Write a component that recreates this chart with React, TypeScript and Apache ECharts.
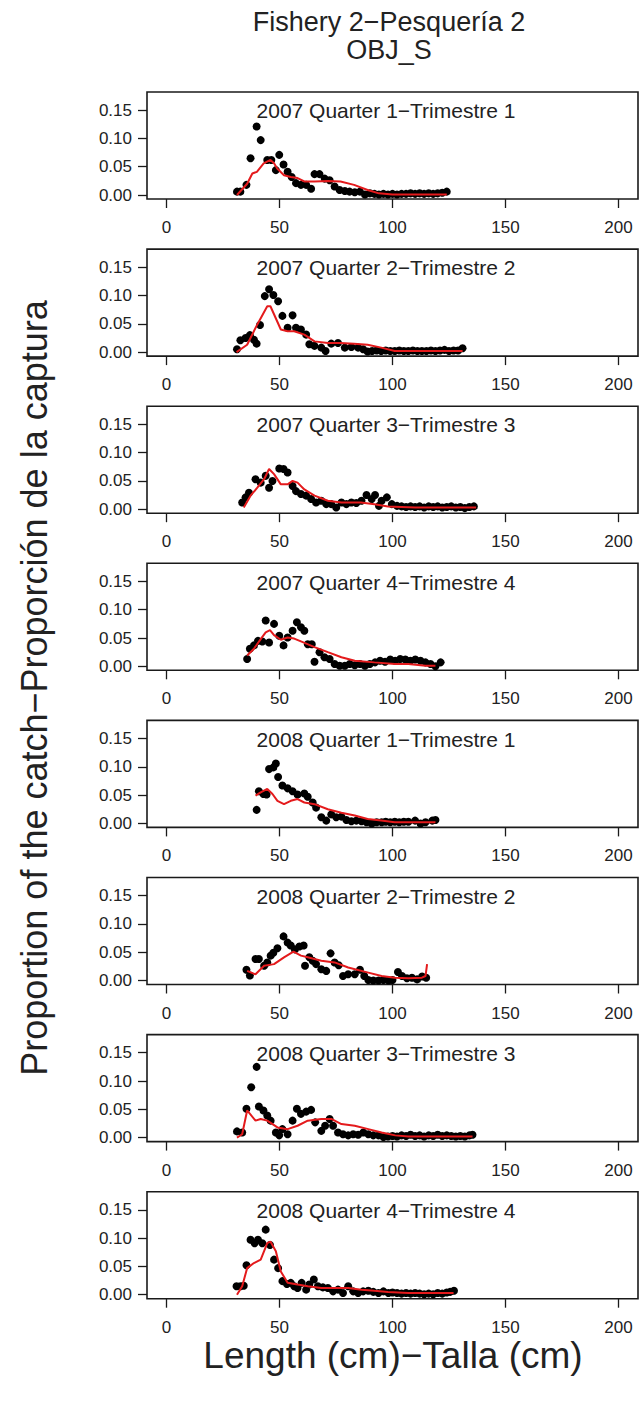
import React, { useEffect, useRef } from "react";
import * as echarts from "echarts";

// ---------- data ----------
const panelTitles = [
  "2007 Quarter 1\u2212Trimestre 1",
  "2007 Quarter 2\u2212Trimestre 2",
  "2007 Quarter 3\u2212Trimestre 3",
  "2007 Quarter 4\u2212Trimestre 4",
  "2008 Quarter 1\u2212Trimestre 1",
  "2008 Quarter 2\u2212Trimestre 2",
  "2008 Quarter 3\u2212Trimestre 3",
  "2008 Quarter 4\u2212Trimestre 4",
];
const xTicks = [0, 50, 100, 150, 200];
const yTicks = [0, 0.05, 0.1, 0.15];

const obs2007q1 = [[31.2,0.006],[32.7,0.006],[35.4,0.018],[37.2,0.065],[39.9,0.121],[41.7,0.097],[44.6,0.062],[46.4,0.062],[48.4,0.044],[49.9,0.071],[51.8,0.054],[53.6,0.041],[55.4,0.032],[57.3,0.021],[59.5,0.018],[61.8,0.018],[64,0.011],[65.5,0.037],[67.7,0.037],[70,0.029],[72.2,0.026],[74.4,0.015],[76.6,0.009],[78.9,0.007],[81,0.006],[83.3,0.005],[85.6,0.006],[87.8,0.001],[90,0.003],[92,0.002],[94,0.001],[96,0.002],[98,0.001],[100,0.002],[102,0.001],[104,0.002],[106,0.002],[108,0.003],[110,0.002],[112,0.003],[114,0.002],[116,0.003],[118,0.002],[120,0.003],[122,0.004],[124,0.006]];
const pred2007q1 = [[31.2,0],[35.7,0.02],[38,0.038],[40,0.041],[43,0.056],[46,0.062],[47.6,0.056],[49,0.047],[52,0.035],[55,0.032],[58,0.03],[61,0.024],[65.5,0.024],[71.4,0.025],[77,0.024],[83,0.018],[89,0.009],[94,0.003],[100,0.001],[110,0.001],[124,0.001]];

const obs2007q2 = [[31.2,0.005],[32.7,0.021],[35,0.025],[36.9,0.03],[38.7,0.022],[39.9,0.015],[41.4,0.048],[43.5,0.099],[45.4,0.111],[47.3,0.101],[49.4,0.09],[51.3,0.064],[53.6,0.043],[55.8,0.065],[57.3,0.043],[59.5,0.04],[61.8,0.031],[63.2,0.014],[65.5,0.011],[68.5,0.008],[70.4,0.002],[72.9,0.015],[75.9,0.016],[78.9,0.008],[81.8,0.009],[84.8,0.008],[87,0.005],[89,0.001],[91,0.002],[93,0.003],[95,0.002],[97,0.003],[99,0.002],[101,0.002],[103,0.003],[105,0.002],[107,0.002],[109,0.003],[111,0.002],[113,0.002],[115,0.002],[117,0.003],[119,0.002],[121,0.003],[123,0.004],[125,0.002],[127,0.003],[129,0.003],[131,0.007]];
const pred2007q2 = [[31,0],[35.7,0.013],[40.2,0.049],[44.6,0.081],[46,0.081],[50.6,0.04],[53.6,0.037],[56.5,0.037],[61,0.031],[65.5,0.019],[71.4,0.016],[77,0.016],[83,0.015],[89,0.013],[95,0.008],[101,0.002],[115,0.002],[131,0.002]];

const obs2007q3 = [[33.5,0.012],[35,0.021],[36.5,0.029],[39.4,0.053],[41.7,0.047],[43.9,0.059],[45.4,0.038],[46.9,0.05],[49.9,0.072],[51.8,0.071],[53.6,0.065],[55.8,0.041],[57.3,0.032],[59.5,0.027],[61.8,0.024],[64,0.018],[66.2,0.012],[68.5,0.015],[70.7,0.009],[72.9,0.009],[75.1,0.003],[77.4,0.012],[79.6,0.009],[81.8,0.012],[84,0.011],[86.3,0.015],[88.5,0.025],[90.8,0.018],[92.3,0.025],[94,0.006],[95.2,0.015],[97.5,0.021],[99.7,0.009],[102,0.006],[104,0.005],[106,0.004],[108,0.005],[110,0.004],[112,0.005],[114,0.003],[116,0.005],[118,0.004],[120,0.005],[122,0.003],[124,0.004],[126,0.005],[128,0.003],[130,0.004],[132,0.002],[134,0.004],[136,0.005]];
const pred2007q3 = [[34.2,0.003],[37.2,0.024],[40.2,0.038],[43.2,0.053],[45.4,0.071],[47.6,0.062],[50.6,0.044],[53.6,0.044],[55.8,0.05],[58,0.047],[61,0.035],[65.5,0.024],[71.4,0.015],[77.4,0.012],[86,0.012],[92,0.009],[98,0.005],[110,0.003],[137,0.003]];

const obs2007q4 = [[35.7,0.013],[36.9,0.031],[38.7,0.037],[40.5,0.045],[42.4,0.044],[43.9,0.081],[45.4,0.042],[47.6,0.075],[49.9,0.054],[51.8,0.037],[53.6,0.051],[55.8,0.063],[57.7,0.078],[59.5,0.069],[61,0.063],[62.5,0.039],[64.3,0.039],[65.5,0.008],[67.7,0.025],[69.9,0.016],[72.2,0.013],[74.4,0.004],[76.6,0.001],[78.9,0.001],[81.1,0.004],[83.3,0.002],[85.6,0.004],[87.8,0.001],[90,0.004],[92.3,0.007],[94.5,0.01],[96.7,0.008],[99,0.012],[101.2,0.01],[103.4,0.013],[105.7,0.012],[107.9,0.01],[110.1,0.012],[112.4,0.01],[114.6,0.007],[116.8,0.004],[119,0],[121.3,0.007]];
const pred2007q4 = [[35.7,0.019],[38.7,0.031],[41.7,0.048],[43.9,0.06],[45.8,0.064],[47.6,0.055],[50.6,0.047],[53.6,0.051],[56.5,0.049],[59.5,0.044],[65.5,0.034],[71.4,0.025],[77.4,0.016],[83.3,0.01],[92,0.007],[101,0.004],[107,0.004],[114.6,0.001],[119,0.001]];

const obs2008q1 = [[39.9,0.024],[40.9,0.057],[42.9,0.052],[44.3,0.051],[45.4,0.096],[47.3,0.099],[48.4,0.106],[49.4,0.082],[51.3,0.067],[53.6,0.062],[55.8,0.057],[58,0.051],[61,0.053],[62.5,0.047],[64.7,0.037],[66.2,0.028],[68.5,0.011],[70.7,0.005],[72.9,0.016],[75.1,0.011],[77.4,0.012],[79.6,0.006],[81.8,0.004],[84,0.005],[86.3,0.004],[88.5,0.002],[90.8,0],[93,0.002],[95.2,0.002],[97,0.003],[99,0.002],[101,0.003],[103,0.002],[105,0.003],[107,0.003],[110,0.005],[112.4,0],[114.6,0.002],[117.6,0.005],[119,0.006]];
const pred2008q1 = [[39.4,0.049],[41.7,0.055],[44.6,0.061],[46.9,0.052],[49.1,0.04],[52,0.034],[55,0.04],[58,0.043],[61,0.037],[65.5,0.034],[71.4,0.025],[77.4,0.019],[83.3,0.014],[89,0.008],[95,0.005],[101,0.002],[119,0.002]];

const obs2008q2 = [[35.4,0.019],[36.9,0.009],[39.4,0.038],[40.9,0.038],[43.2,0.026],[44.6,0.032],[46.1,0.044],[47.3,0.049],[49.1,0.057],[51.8,0.078],[53.6,0.067],[55,0.062],[56.8,0.055],[58.8,0.06],[60.7,0.062],[61.3,0.026],[63.2,0.041],[64.7,0.035],[66.2,0.029],[68.5,0.02],[70.7,0.017],[72.6,0.048],[74.4,0.032],[76.2,0.027],[78.1,0.008],[80.4,0.011],[83.3,0.011],[85.6,0.019],[87.5,0.008],[89.3,0.001],[91.5,0],[93.8,0],[96,0.001],[98.2,0],[100,0.001],[102.4,0.015],[104.2,0.008],[106.4,0.004],[108.6,0.005],[110.9,0.002],[113.1,0.007],[114.9,0.005]];
const pred2008q2 = [[35.7,0.017],[39.4,0.011],[43.2,0.026],[47.6,0.029],[52,0.041],[56.2,0.051],[59.5,0.044],[62.5,0.041],[68.5,0.035],[74.4,0.032],[80.4,0.023],[89.3,0.014],[95.2,0.008],[101,0.005],[107,0.004],[113,0.005],[114.6,0.008],[115.3,0.029]];

const obs2008q3 = [[31.2,0.011],[33.5,0.009],[35.4,0.051],[37.5,0.089],[39.9,0.125],[40.9,0.055],[42.9,0.048],[44.6,0.039],[46.1,0.03],[48.4,0.009],[49.9,0.004],[51.3,0.015],[53.6,0.006],[55.8,0.03],[57.7,0.051],[59.5,0.042],[61.8,0.046],[64,0.049],[65.8,0.027],[68.5,0.012],[70.2,0.021],[72.2,0.033],[73.7,0.021],[75.9,0.009],[78.1,0.006],[80.4,0.004],[82.6,0.006],[84.8,0.005],[87.1,0.009],[89.3,0.006],[91.5,0.004],[93.8,0.004],[96,0.001],[98,0.002],[100,0.003],[102,0.002],[104,0.004],[106,0.003],[108,0.005],[110,0.003],[112,0.004],[114,0.002],[116,0.004],[118,0.003],[120,0.005],[122,0.003],[124,0.004],[126,0.003],[128,0.002],[130,0.003],[132,0.002],[134,0.004],[135.4,0.005]];
const pred2008q3 = [[31.2,0],[33.5,0.006],[35.7,0.048],[39.4,0.03],[41.7,0.033],[44.6,0.03],[49.1,0.018],[53.6,0.015],[58,0.021],[62.5,0.03],[68.5,0.033],[72.9,0.033],[77.4,0.024],[83.3,0.021],[89.3,0.015],[95.2,0.009],[101.2,0.004],[107,0.002],[135.4,0.002]];

const obs2008q4 = [[31,0.015],[32.7,0.015],[34.2,0.016],[35.4,0.052],[37.2,0.097],[39,0.091],[40.5,0.097],[42.4,0.091],[43.9,0.115],[45.8,0.088],[47.6,0.062],[49.4,0.047],[51.3,0.024],[53.3,0.019],[55,0.021],[56.5,0.015],[58,0.012],[59.8,0.021],[61.8,0.009],[63.2,0.018],[65.2,0.027],[67,0.015],[69.2,0.013],[71.4,0.012],[73.7,0.006],[75.9,0.009],[78.1,0.003],[80.4,0.015],[82.6,0.006],[84.8,0.003],[87,0.006],[89.3,0.007],[91.5,0.005],[93.8,0.003],[96,0.006],[98.2,0.003],[100,0.004],[102,0.003],[104,0.002],[106,0.003],[108,0.002],[110,0.003],[112,0.002],[114,0.001],[116,0.002],[118,0.001],[120,0.003],[122,0.002],[124,0.004],[125.5,0.005],[127.2,0.007]];
const pred2008q4 = [[31.2,0],[33.5,0.015],[35.7,0.047],[38.7,0.056],[41.7,0.062],[44.6,0.091],[46,0.094],[48.4,0.077],[50.6,0.041],[53.6,0.021],[58,0.018],[62.5,0.015],[68.5,0.012],[74.4,0.012],[80.4,0.012],[86.3,0.009],[92,0.007],[98,0.005],[107,0.003],[127,0.003]];

const observed = [obs2007q1, obs2007q2, obs2007q3, obs2007q4, obs2008q1, obs2008q2, obs2008q3, obs2008q4];
const predicted = [pred2007q1, pred2007q2, pred2007q3, pred2007q4, pred2008q1, pred2008q2, pred2008q3, pred2008q4];

// ---------- layout ----------
const FONT = "'Liberation Sans', Arial, Helvetica, sans-serif";
const GRID_LEFT = 147;
const GRID_WIDTH = 491;
const GRID_TOP0 = 92;
const GRID_STEP = 157.1;
const GRID_HEIGHT = 107;

export default function App() {
  const ref = useRef<HTMLDivElement>(null);

  useEffect(() => {
    if (!ref.current) return;
    const chart = echarts.init(ref.current, null, { renderer: "svg" });

    const grids: any[] = [];
    const xAxes: any[] = [];
    const yAxes: any[] = [];
    const series: any[] = [];
    const graphics: any[] = [];

    panelTitles.forEach((title, i) => {
      const top = GRID_TOP0 + GRID_STEP * i;
      grids.push({
        left: GRID_LEFT,
        top,
        width: GRID_WIDTH,
        height: GRID_HEIGHT,
        show: true,
        borderColor: "#1a1a1a",
        borderWidth: 1.6,
        backgroundColor: "#ffffff",
      });
      xAxes.push({
        type: "value",
        gridIndex: i,
        position: "bottom",
        min: -8.6,
        max: 208.6,
        axisLine: { show: false, onZero: false },
        splitLine: { show: false },
        axisTick: { show: true, customValues: xTicks, length: 9, inside: false, lineStyle: { color: "#1a1a1a", width: 1.3 } },
        axisLabel: { show: true, customValues: xTicks, margin: 20, fontSize: 17, color: "#222", fontFamily: FONT },
      });
      yAxes.push({
        type: "value",
        gridIndex: i,
        position: "left",
        min: -0.007,
        max: 0.182,
        axisLine: { show: false, onZero: false },
        splitLine: { show: false },
        axisTick: { show: true, customValues: yTicks, length: 9, inside: false, lineStyle: { color: "#1a1a1a", width: 1.3 } },
        axisLabel: {
          show: true,
          customValues: yTicks,
          margin: 15,
          fontSize: 17,
          color: "#222",
          fontFamily: FONT,
          formatter: (v: number) => v.toFixed(2),
        },
      });
      series.push({
        type: "scatter",
        xAxisIndex: i,
        yAxisIndex: i,
        data: observed[i],
        symbol: "circle",
        symbolSize: 8,
        itemStyle: { color: "#000000", opacity: 1 },
        z: 2,
      });
      series.push({
        type: "line",
        xAxisIndex: i,
        yAxisIndex: i,
        data: predicted[i],
        showSymbol: false,
        symbol: "none",
        lineStyle: { color: "#e41a1c", width: 2 },
        z: 3,
      });
      graphics.push({
        type: "text",
        x: 386,
        y: top + 18.7,
        style: {
          text: title,
          font: `21px ${FONT}`,
          fill: "#222",
          textAlign: "center",
          textVerticalAlign: "middle",
        },
        z: 10,
      });
    });

    graphics.push(
      {
        type: "text",
        x: 389,
        y: 22,
        style: { text: "Fishery 2\u2212Pesquer\u00eda 2", font: `27px ${FONT}`, fill: "#222", textAlign: "center", textVerticalAlign: "middle" },
      },
      {
        type: "text",
        x: 389,
        y: 50,
        style: { text: "OBJ_S", font: `27px ${FONT}`, fill: "#222", textAlign: "center", textVerticalAlign: "middle" },
      },
      {
        type: "text",
        x: 34,
        y: 688,
        rotation: Math.PI / 2,
        style: {
          text: "Proportion of the catch\u2212Proporci\u00f3n de la captura",
          font: `36px ${FONT}`,
          fill: "#222",
          textAlign: "center",
          textVerticalAlign: "middle",
        },
      },
      {
        type: "text",
        x: 393,
        y: 1355,
        style: { text: "Length (cm)\u2212Talla (cm)", font: `37px ${FONT}`, fill: "#222", textAlign: "center", textVerticalAlign: "middle" },
      }
    );

    chart.setOption({
      animation: false,
      backgroundColor: "#ffffff",
      grid: grids,
      xAxis: xAxes,
      yAxis: yAxes,
      series,
      graphic: graphics,
    });

    return () => chart.dispose();
  }, []);

  return (
    <div
      ref={ref}
      style={{ position: "absolute", left: 0, top: 0, width: 639, height: 1404 }}
    />
  );
}
